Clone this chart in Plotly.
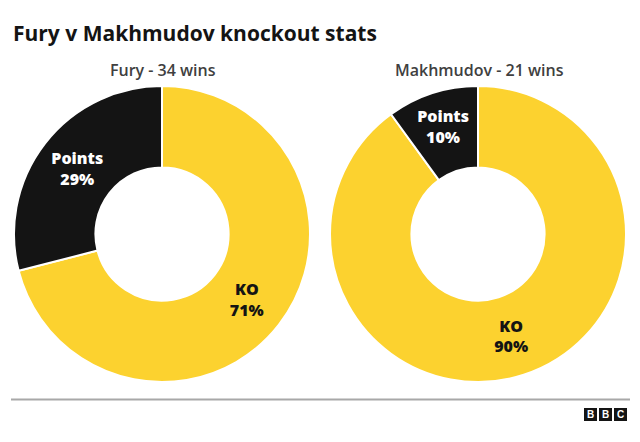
import plotly.graph_objects as go

title = "Fury v Makhmudov knockout stats"
fighters = ["Fury - 34 wins", "Makhmudov - 21 wins"]
labels = ["KO", "Points"]
fury_values = [71, 29]
makh_values = [90, 10]

# page has an 8px body margin; figure is sized to fit inside the 640x442 window
OFF = 8
W, H = 640 - OFF, 442 - OFF
YELLOW = "#FCD22F"
BLACK = "#141414"

def px(x):
    return (x - OFF) / W

def py(y):
    return 1 - (y - OFF) / H

fig = go.Figure()

domains = [
    dict(x=[px(14), px(310)], y=[py(382), py(86)]),
    dict(x=[px(330), px(626)], y=[py(382), py(86)]),
]

for vals, dom in zip([fury_values, makh_values], domains):
    fig.add_trace(go.Pie(
        labels=labels,
        values=vals,
        text=[f"{l}<br>{v}%" for l, v in zip(labels, vals)],
        textinfo="text",
        textposition="inside",
        insidetextorientation="horizontal",
        insidetextfont=dict(color=[BLACK, "white"], size=16, family="Open Sans", weight=800),
        marker=dict(colors=[YELLOW, BLACK], line=dict(color="white", width=2)),
        hole=0.45,
        sort=False,
        direction="clockwise",
        rotation=0,
        domain=dom,
        hoverinfo="skip",
        showlegend=False,
    ))

annotations = [
    dict(text=f"<b>{title}</b>", x=px(11), y=py(33), xref="paper", yref="paper",
         xanchor="left", yanchor="middle", showarrow=False,
         font=dict(family="Open Sans", size=21, color="#141414")),
    dict(text=fighters[0], x=px(163), y=py(70), xref="paper", yref="paper",
         xanchor="center", yanchor="middle", showarrow=False,
         font=dict(family="Open Sans", size=16, color="#404040", weight=600)),
    dict(text=fighters[1], x=px(479), y=py(70), xref="paper", yref="paper",
         xanchor="center", yanchor="middle", showarrow=False,
         font=dict(family="Open Sans", size=16, color="#404040", weight=600)),
]

shapes = [
    dict(type="line", xref="paper", yref="paper", x0=px(11), x1=px(630),
         y0=py(399.5), y1=py(399.5), line=dict(color="#a8a8a8", width=2)),
]
for i, letter in enumerate("BBC"):
    x0 = 584 + i * 15
    shapes.append(dict(type="rect", xref="paper", yref="paper",
                       x0=px(x0), x1=px(x0 + 13), y0=py(421), y1=py(408),
                       fillcolor="#141414", line=dict(width=0)))
    annotations.append(dict(text=f"<b>{letter}</b>", x=px(x0 + 6.5), y=py(414.5),
                            xref="paper", yref="paper", xanchor="center", yanchor="middle",
                            showarrow=False, font=dict(family="Arial", size=10, color="white")))

fig.update_layout(
    width=W, height=H,
    margin=dict(l=0, r=0, t=0, b=0),
    paper_bgcolor="white",
    plot_bgcolor="white",
    annotations=annotations,
    shapes=shapes,
)

fig.write_html("out.html")
